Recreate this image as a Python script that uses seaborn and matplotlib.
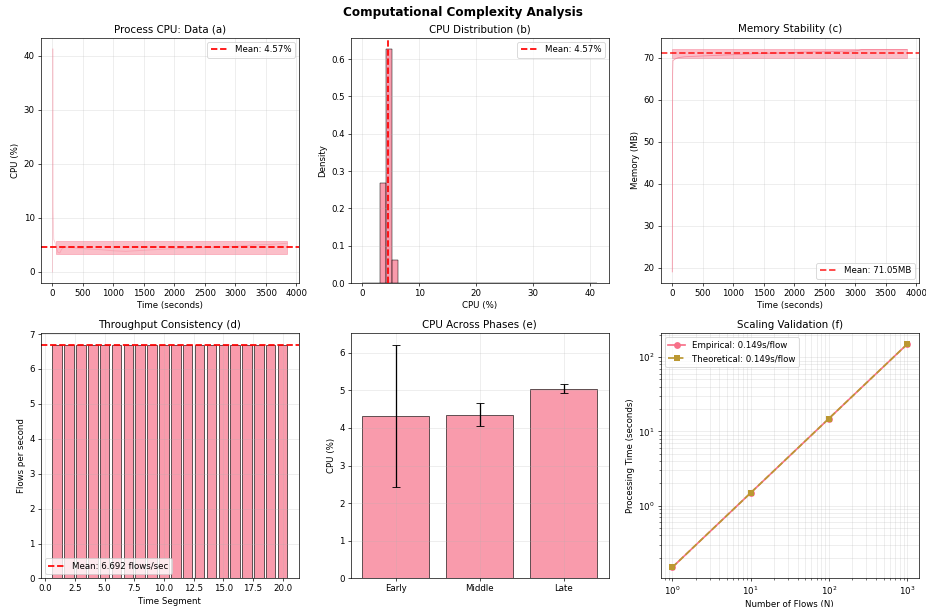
import matplotlib
matplotlib.use("Agg")
import matplotlib.pyplot as plt
import seaborn as sns

sns.set_palette("husl")
pal = sns.color_palette()

# (a) process CPU over time
cpu_time = [0, 5, 10, 20, 40, 60, 90, 120, 150, 200, 300, 500, 800, 1000,
            1200, 1500, 2000, 2500, 3000, 3300, 3600, 3850]
cpu_pct = [0.0, 41.3, 12.0, 6.0, 5.5, 4.6, 3.6, 3.5, 4.2, 4.6, 4.5, 4.3, 4.1,
           3.9, 3.8, 4.0, 4.3, 4.5, 4.7, 5.0, 5.1, 5.3]
cpu_band_time = [50, 3850]
cpu_band_low = [3.35, 3.35]
cpu_band_high = [5.7, 5.7]
cpu_mean = 4.57

# (b) CPU distribution (representative values and sample counts)
cpu_hist_values = [0.3, 3.6, 4.6, 5.6, 6.6, 9.8, 10.9, 11.9, 12.9, 14.0,
                   18.0, 25.3, 31.5, 41.0]
cpu_hist_counts = [1, 270, 628, 62, 1, 1, 1, 1, 1, 1, 1, 1, 1, 1]

# (c) memory over time
mem_time = [0, 5, 10, 50, 100, 200, 500, 1000, 1300, 1500, 2000, 2100,
            2500, 3000, 3050, 3100, 3850]
mem_mb = [19.0, 66.0, 69.3, 69.7, 70.0, 70.2, 70.4, 70.7, 70.9, 71.0, 71.2,
          71.3, 71.4, 71.6, 71.7, 71.9, 71.9]
mem_band_time = [0, 3850]
mem_band_low = [70.0, 70.0]
mem_band_high = [72.1, 72.1]
mem_mean = 71.05

# (d) throughput per segment
segments = list(range(1, 21))
throughput = [6.692] * 20
throughput_mean = 6.692

# (e) CPU by phase
phases = ["Early", "Middle", "Late"]
phase_cpu = [4.32, 4.35, 5.04]
phase_std = [1.89, 0.31, 0.12]

# (f) scaling
n_flows = [1, 10, 100, 1000]
empirical_time = [0.149, 1.49, 14.9, 149.0]
theoretical_time = [0.149, 1.49, 14.9, 149.0]

fig, axes = plt.subplots(2, 3, figsize=(15, 9.83))
fig.suptitle("Computational Complexity Analysis", fontsize=14, fontweight="bold", y=0.99)

# (a)
ax = axes[0, 0]
sns.lineplot(x=cpu_time, y=cpu_pct, ax=ax, color=pal[0], alpha=0.35, linewidth=1)
ax.fill_between(cpu_band_time, cpu_band_low, cpu_band_high, color=pal[0], alpha=0.45)
ax.axhline(cpu_mean, color="red", linestyle="--", linewidth=2, label=f"Mean: {cpu_mean:.2f}%")
ax.set_title("Process CPU: Data (a)")
ax.set_xlabel("Time (seconds)")
ax.set_ylabel("CPU (%)")
ax.legend(loc="upper right")
ax.grid(True, alpha=0.3)

# (b)
ax = axes[0, 1]
sns.histplot(x=cpu_hist_values, weights=cpu_hist_counts, bins=40, binrange=(0, 41.3),
             stat="density", color=pal[0], alpha=0.7, edgecolor="black", ax=ax)
ax.axvline(cpu_mean, color="red", linestyle="--", linewidth=2, label=f"Mean: {cpu_mean:.2f}%")
ax.set_title("CPU Distribution (b)")
ax.set_xlabel("CPU (%)")
ax.set_ylabel("Density")
ax.legend(loc="upper right")
ax.grid(True, alpha=0.3)

# (c)
ax = axes[0, 2]
sns.lineplot(x=mem_time, y=mem_mb, ax=ax, color=pal[0], alpha=0.7, linewidth=1)
ax.fill_between(mem_band_time, mem_band_low, mem_band_high, color=pal[0], alpha=0.45)
ax.axhline(mem_mean, color="red", linestyle="--", linewidth=2, alpha=0.8,
           label=f"Mean: {mem_mean:.2f}MB")
ax.set_title("Memory Stability (c)")
ax.set_xlabel("Time (seconds)")
ax.set_ylabel("Memory (MB)")
ax.legend(loc="lower right")
ax.grid(True, alpha=0.3)

# (d)
ax = axes[1, 0]
sns.barplot(x=segments, y=throughput, native_scale=True, color=pal[0], saturation=1,
            alpha=0.7, edgecolor="black", ax=ax)
ax.axhline(throughput_mean, color="red", linestyle="--", linewidth=2,
           label=f"Mean: {throughput_mean:.3f} flows/sec")
ax.set_title("Throughput Consistency (d)")
ax.set_xlabel("Time Segment")
ax.set_ylabel("Flows per second")
ax.legend(loc="lower left")
ax.grid(True, alpha=0.3)

# (e)
ax = axes[1, 1]
sns.barplot(x=phases, y=phase_cpu, color=pal[0], saturation=1, alpha=0.7,
            edgecolor="black", ax=ax)
ax.errorbar(range(len(phases)), phase_cpu, yerr=phase_std, fmt="none",
            ecolor="black", capsize=5, elinewidth=1.5)
ax.set_title("CPU Across Phases (e)")
ax.set_ylabel("CPU (%)")
ax.grid(True, alpha=0.3)

# (f)
ax = axes[1, 2]
sns.lineplot(x=n_flows, y=empirical_time, ax=ax, color=pal[0], marker="o",
             markersize=8, linewidth=2, markeredgewidth=0, label="Empirical: 0.149s/flow")
sns.lineplot(x=n_flows, y=theoretical_time, ax=ax, color=pal[1], marker="s",
             markersize=8, linewidth=2, markeredgewidth=0, linestyle="--",
             label="Theoretical: 0.149s/flow")
ax.set_xscale("log")
ax.set_yscale("log")
ax.set_title("Scaling Validation (f)")
ax.set_xlabel("Number of Flows (N)")
ax.set_ylabel("Processing Time (seconds)")
ax.legend(loc="upper left")
ax.grid(True, which="both", alpha=0.3)

fig.subplots_adjust(left=0.044, right=0.992, top=0.938, bottom=0.047,
                    wspace=0.2, hspace=0.204)
fig.savefig("out.png", dpi=61.75)
